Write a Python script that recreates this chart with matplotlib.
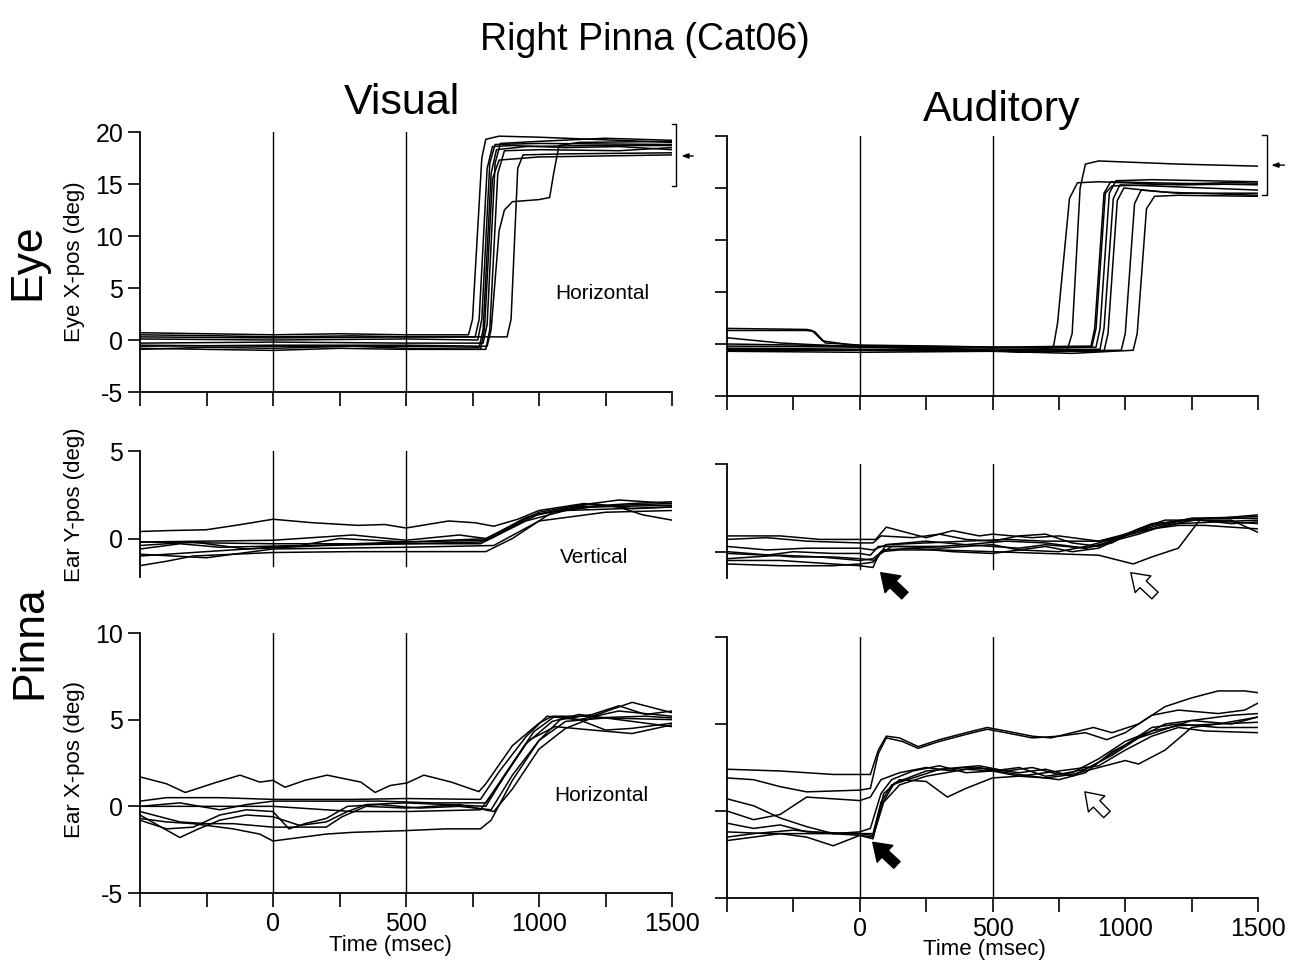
import matplotlib
matplotlib.use("Agg")
import matplotlib.pyplot as plt

plt.rcParams['font.family'] = ['Liberation Sans', 'DejaVu Sans']

# ---------------- data (time in msec, position in deg) ----------------
eye_visual = [
    [(-500,0.7),(-250,0.6),(0,0.5),(250,0.6),(500,0.5),(735,0.5),(750,2.0),(785,17.5),(800,19.3),(850,19.6),(1000,19.5),(1200,19.3),(1500,19.0)],
    [(-500,0.5),(-200,0.4),(0,0.3),(300,0.4),(500,0.3),(760,0.3),(775,2.0),(805,16.5),(825,18.6),(900,18.7),(1100,18.5),(1300,18.6),(1500,18.3)],
    [(-500,-0.5),(0,-0.6),(500,-0.6),(775,-0.7),(790,1.0),(820,16.0),(840,18.3),(950,18.6),(1200,18.7),(1500,18.7)],
    [(-500,-0.8),(-250,-0.9),(0,-1.0),(250,-0.8),(500,-0.9),(780,-0.9),(795,1.0),(825,15.5),(850,17.3),(1000,17.6),(1500,17.8)],
    [(-500,-0.3),(0,-0.2),(500,-0.3),(790,-0.3),(805,1.5),(835,17.0),(855,18.9),(1000,19.1),(1250,19.4),(1500,19.2)],
    [(-500,-0.9),(-250,-0.7),(0,-0.8),(300,-0.6),(500,-0.8),(800,-0.9),(815,1.0),(845,16.0),(870,18.2),(1000,18.3),(1300,18.2),(1500,18.5)],
    [(-500,0.3),(0,0.2),(500,0.3),(880,0.3),(895,2.0),(920,16.5),(940,17.8),(1100,17.9),(1500,18.0)],
    [(-500,-0.6),(0,-0.5),(500,-0.5),(805,-0.6),(820,1.0),(850,10.5),(870,12.5),(900,13.3),(1000,13.5),(1040,13.7),(1055,16.0),(1075,18.7),(1150,19.0),(1500,19.1)],
    [(-500,0.1),(0,0.0),(500,0.1),(770,0.0),(785,2.0),(815,17.0),(835,18.8),(1000,18.9),(1500,18.8)],
]

eye_auditory = [
    [(-500,1.3),(-200,1.3),(-170,1.2),(-130,0.1),(0,-0.1),(300,-0.2),(500,-0.3),(700,-0.4),(870,-0.3),(885,1.5),(920,14.5),(945,15.6),(1100,15.5),(1500,15.3)],
    [(-500,1.5),(-200,1.4),(-180,1.3),(-140,0.3),(0,-0.2),(300,-0.4),(500,-0.6),(700,-0.5),(730,-0.2),(745,2.0),(790,14.0),(820,15.5),(900,15.6),(1200,15.3),(1500,15.4)],
    [(-500,0.6),(-300,0.1),(0,-0.3),(500,-0.6),(600,-0.8),(780,-0.7),(800,1.0),(830,15.0),(850,17.3),(900,17.6),(1200,17.3),(1500,17.1)],
    [(-500,-0.2),(0,-0.3),(500,-0.4),(890,-0.3),(905,1.5),(940,14.5),(965,15.7),(1100,15.8),(1500,15.6)],
    [(-500,-0.4),(0,-0.5),(500,-0.6),(905,-0.5),(920,1.5),(955,14.0),(980,15.3),(1100,15.2),(1500,14.8)],
    [(-500,-0.6),(0,-0.6),(500,-0.7),(920,-0.7),(935,1.0),(970,13.8),(995,15.0),(1150,14.6),(1500,14.3)],
    [(-500,-0.7),(0,-0.8),(500,-0.7),(800,-0.9),(1030,-0.6),(1045,1.0),(1080,13.0),(1110,14.2),(1200,14.3),(1500,14.2)],
    [(-500,-0.5),(0,-0.6),(500,-0.7),(985,-0.6),(1000,1.0),(1035,13.5),(1060,14.8),(1200,14.5),(1500,14.5)],
    [(-500,0.0),(0,-0.2),(500,-0.3),(875,-0.2),(890,1.5),(925,14.5),(950,15.2),(1100,15.3),(1500,15.6)],
]

ear_y_visual = [
    [(-500,0.4),(-400,0.45),(-250,0.5),(-120,0.8),(0,1.1),(150,0.9),(320,0.75),(420,0.8),(500,0.6),(580,0.8),(660,1.0),(760,0.9),(830,0.7),(920,1.1),(1000,1.6),(1170,2.0),(1300,1.8),(1390,1.35),(1500,1.05)],
    [(-500,-1.55),(-400,-1.3),(-300,-1.0),(-150,-0.9),(0,-0.8),(300,-0.75),(600,-0.75),(800,-0.75),(900,0.0),(1050,1.5),(1200,1.8),(1500,1.9)],
    [(-500,-1.0),(-300,-0.8),(0,-0.5),(300,-0.3),(500,-0.2),(800,-0.1),(1000,1.4),(1150,1.8),(1350,2.0),(1500,2.1)],
    [(-500,-0.2),(0,-0.1),(300,0.2),(500,-0.1),(700,0.2),(800,0.0),(1000,1.5),(1150,1.9),(1300,2.2),(1500,2.0)],
    [(-500,-0.4),(-300,-0.2),(-100,-0.6),(200,-0.4),(500,-0.3),(780,-0.2),(950,1.2),(1100,1.7),(1300,1.9),(1500,2.0)],
    [(-500,-0.2),(0,-0.3),(500,-0.3),(780,-0.3),(950,1.0),(1100,1.6),(1300,1.7),(1500,1.8)],
    [(-500,-0.6),(-350,-0.3),(-200,-0.5),(100,-0.4),(250,0.0),(500,-0.2),(820,0.0),(970,1.3),(1200,2.0),(1350,1.7),(1500,1.8)],
    [(-500,-0.9),(-250,-1.1),(0,-0.6),(500,-0.5),(830,-0.4),(1000,1.0),(1250,1.5),(1500,1.6)],
]

ear_y_auditory = [
    [(-500,0.9),(-300,0.9),(-150,0.7),(0,0.7),(60,0.7),(100,1.4),(150,1.2),(250,0.8),(350,1.2),(450,0.9),(500,1.0),(650,0.8),(750,0.9),(900,0.6),(1000,0.9),(1100,1.5),(1250,1.9),(1350,1.9),(1500,2.1)],
    [(-500,0.7),(-350,0.8),(-200,0.6),(0,0.5),(50,0.5),(80,0.9),(200,0.8),(300,1.0),(400,0.7),(500,0.6),(600,0.9),(700,1.0),(800,0.5),(900,0.3),(1000,1.0),(1100,1.6),(1250,1.8),(1400,1.8),(1500,1.1)],
    [(-500,-0.1),(-350,-0.2),(-250,0.0),(-100,-0.1),(0,-0.1),(40,-0.2),(70,0.3),(150,0.3),(300,0.2),(500,0.4),(600,0.1),(700,0.3),(800,0.0),(900,0.2),(1000,0.9),(1100,1.3),(1200,1.6),(1500,1.8)],
    [(-500,-0.7),(-300,-0.8),(-100,-0.8),(0,-0.7),(50,-0.6),(80,0.0),(150,0.1),(300,0.1),(500,0.0),(700,-0.1),(900,-0.2),(1030,-0.7),(1100,-0.3),(1200,0.2),(1280,1.8),(1400,1.6),(1500,1.7)],
    [(-500,-0.5),(-300,-0.5),(-100,-0.7),(0,-0.8),(50,-0.9),(70,-0.2),(120,0.3),(300,0.3),(400,0.4),(500,0.3),(600,0.2),(700,0.4),(850,0.2),(950,0.6),(1050,1.0),(1150,1.5),(1300,1.9),(1500,1.9)],
    [(-500,0.3),(-350,0.1),(-200,0.2),(0,0.2),(50,0.1),(100,0.4),(250,0.6),(400,0.4),(550,0.6),(700,0.5),(850,0.2),(950,0.5),(1050,1.3),(1150,1.8),(1300,1.8),(1500,1.6)],
    [(-500,-0.4),(-300,-0.2),(-150,-0.3),(0,-0.5),(50,-0.4),(90,0.1),(200,0.2),(350,0.0),(500,-0.1),(600,0.1),(750,0.0),(850,0.3),(950,0.7),(1050,1.2),(1200,1.5),(1300,1.5),(1500,1.3)],
    [(-500,0.0),(-250,-0.3),(-100,-0.3),(0,-0.4),(60,-0.5),(100,0.4),(250,0.5),(400,0.6),(550,0.7),(700,0.6),(900,0.6),(1000,1.0),(1100,1.4),(1250,1.9),(1500,2.0)],
]

ear_x_visual = [
    [(-500,1.7),(-400,1.3),(-330,0.8),(-230,1.3),(-124,1.8),(-50,1.4),(0,1.5),(45,1.1),(120,1.5),(203,1.8),(330,1.4),(384,0.8),(440,1.2),(504,1.35),(567,1.8),(670,1.4),(774,0.85),(800,1.3),(900,3.5),(1000,4.8),(1050,5.2),(1150,5.0),(1250,4.4),(1350,4.5),(1500,4.8)],
    [(-500,-0.7),(-400,-0.9),(-300,-1.0),(-150,-1.3),(-50,-1.6),(0,-2.0),(100,-1.8),(200,-1.6),(300,-1.5),(500,-1.4),(650,-1.3),(780,-1.3),(820,-0.8),(900,1.5),(1000,3.8),(1080,5.0),(1200,5.3),(1300,5.8),(1400,5.3),(1500,5.5)],
    [(-500,0.3),(-400,0.5),(-200,0.5),(0,0.4),(300,0.4),(500,0.45),(780,0.4),(850,2.0),(950,4.0),(1030,5.2),(1150,5.0),(1300,5.5),(1500,5.2)],
    [(-500,-0.5),(-420,-1.2),(-350,-1.8),(-280,-1.3),(-200,-0.8),(-100,-0.5),(0,-0.6),(100,-1.1),(200,-0.9),(280,-0.3),(350,0.1),(500,0.2),(650,0.1),(800,0.0),(880,2.0),(980,4.3),(1060,5.2),(1200,5.2),(1350,6.0),(1500,5.4)],
    [(-500,-0.8),(-400,-1.3),(-300,-1.2),(-200,-0.5),(-100,-0.2),(0,-0.3),(60,-1.3),(120,-1.0),(200,-0.7),(280,0.0),(400,0.1),(550,-0.1),(700,0.0),(820,-0.2),(900,1.8),(1000,3.8),(1100,4.9),(1250,5.1),(1500,5.0)],
    [(-500,0.0),(-350,0.2),(-200,-0.2),(-100,0.1),(0,0.3),(200,0.3),(400,0.3),(600,0.2),(800,0.2),(870,1.8),(950,3.6),(1050,4.9),(1150,5.3),(1300,5.0),(1500,4.6)],
    [(-500,-0.3),(-350,-0.9),(-250,-1.0),(-150,-1.0),(0,-1.2),(100,-1.2),(200,-1.2),(260,-0.6),(350,0.0),(500,-0.1),(700,0.1),(830,-0.3),(900,1.0),(1000,3.3),(1100,4.5),(1200,5.1),(1400,5.2),(1500,5.1)],
    [(-500,0.0),(-200,0.0),(0,0.0),(300,-0.3),(500,-0.3),(780,-0.2),(860,1.5),(960,3.8),(1060,4.6),(1200,4.4),(1350,4.2),(1500,4.7)],
]

ear_x_auditory = [
    [(-500,2.4),(-300,2.3),(-100,2.1),(0,2.1),(40,2.1),(70,3.5),(100,4.3),(150,4.2),(220,3.7),(300,4.1),(400,4.5),(480,4.8),(550,4.6),(650,4.3),(720,4.2),(800,4.5),(880,4.8),(950,4.5),(1050,5.0),(1150,6.0),(1250,6.5),(1350,6.9),(1450,6.9),(1500,6.8)],
    [(-500,1.9),(-400,1.8),(-300,1.4),(-200,1.1),(0,1.2),(40,1.3),(70,3.3),(100,4.2),(160,4.0),(220,3.6),(300,4.0),(400,4.4),(480,4.7),(550,4.5),(650,4.2),(750,4.3),(850,4.5),(930,4.1),(1000,4.5),(1100,5.5),(1200,5.8),(1350,5.6),(1450,5.8),(1500,6.2)],
    [(-500,0.7),(-400,0.3),(-300,-0.4),(-200,-0.9),(-100,-1.3),(0,-1.2),(40,-1.0),(80,1.0),(120,1.8),(200,2.3),(300,2.6),(400,2.2),(500,2.3),(600,2.5),(700,2.0),(800,2.2),(900,3.0),(1000,4.0),(1100,4.6),(1200,4.9),(1350,5.0),(1500,5.1)],
    [(-500,0.0),(-400,-0.5),(-300,-0.2),(-200,0.8),(-100,0.7),(0,0.6),(40,0.8),(80,1.8),(150,2.2),(250,2.5),(350,2.3),(450,2.5),(550,2.2),(650,2.0),(750,1.8),(850,2.2),(950,3.4),(1050,4.2),(1150,5.0),(1250,5.2),(1400,5.0),(1500,5.4)],
    [(-500,-0.7),(-400,-1.0),(-300,-0.8),(-200,-1.2),(0,-1.3),(50,-1.3),(80,0.5),(120,1.5),(200,1.9),(300,2.4),(450,2.6),(550,2.3),(650,2.5),(750,2.1),(850,2.4),(950,3.2),(1050,4.2),(1150,4.7),(1250,5.2),(1400,5.5),(1500,5.6)],
    [(-500,-1.5),(-400,-1.3),(-250,-1.1),(-100,-1.3),(0,-1.4),(50,-1.5),(90,0.5),(150,1.5),(250,2.0),(400,2.4),(500,2.3),(600,2.0),(750,2.3),(900,2.6),(1000,3.5),(1100,4.3),(1200,4.8),(1300,4.6),(1500,4.5)],
    [(-500,-1.7),(-400,-1.5),(-300,-1.3),(-200,-1.5),(-100,-2.0),(-50,-1.7),(0,-1.4),(50,-1.6),(90,1.0),(150,1.8),(250,1.7),(330,0.8),(400,1.3),(500,1.9),(600,2.0),(700,1.9),(800,2.1),(900,2.5),(1000,2.9),(1050,2.7),(1150,3.5),(1250,4.8),(1350,5.0),(1500,5.4)],
    [(-500,-1.2),(-350,-1.3),(-200,-1.3),(0,-1.3),(50,-1.4),(80,0.3),(130,1.6),(250,2.3),(400,2.5),(500,2.4),(600,2.2),(700,2.4),(800,2.0),(900,2.8),(1000,3.8),(1100,4.8),(1200,5.0),(1350,4.8),(1500,4.8)],
]

x_ticks = [-500, -250, 0, 250, 500, 750, 1000, 1250, 1500]
x_tick_labels = ['', '', '0', '', '500', '', '1000', '', '1500']
event_times = [0, 500]
eye_yticks = [-5, 0, 5, 10, 15, 20]
ear_y_yticks = [0, 5]
ear_x_yticks = [-5, 0, 5, 10]

# ---------------- figure ----------------
W, H = 1289, 963
fig = plt.figure(figsize=(W / 100, H / 100), dpi=100)

def frac(x0, y_top, x1, y_bot):
    return [x0 / W, 1 - y_bot / H, (x1 - x0) / W, (y_bot - y_top) / H]

ax_ev = fig.add_axes(frac(140, 132, 672, 392))
ax_ea = fig.add_axes(frac(727, 136, 1258, 396))
ax_yv = fig.add_axes(frac(140, 451, 672, 577))
ax_ya = fig.add_axes(frac(727, 464, 1258, 578))
ax_xv = fig.add_axes(frac(140, 633, 672, 893))
ax_xa = fig.add_axes(frac(727, 637, 1258, 898))

def style(ax, ylim, yticks, show_ylabels, xaxis, xlabels, vline_top=1.0, vline_bot=0.0):
    ax.set_xlim(-500, 1500)
    ax.set_ylim(*ylim)
    for s in ['top', 'right']:
        ax.spines[s].set_visible(False)
    ax.spines['left'].set_linewidth(1.3)
    ax.spines['bottom'].set_linewidth(1.3)
    ax.set_yticks(yticks)
    if show_ylabels:
        ax.set_yticklabels([str(v) for v in yticks])
    else:
        ax.set_yticklabels([])
    ax.tick_params(axis='y', direction='out', length=9, width=1.2, labelsize=18, pad=3)
    if xaxis:
        ax.set_xticks(x_ticks)
        ax.set_xticklabels(x_tick_labels if xlabels else [''] * len(x_ticks))
        ax.tick_params(axis='x', direction='out', length=10, width=1.2, labelsize=18, pad=4)
    else:
        ax.spines['bottom'].set_visible(False)
        ax.set_xticks([])
    for t in event_times:
        ax.axvline(t, ymin=vline_bot, ymax=vline_top, color='black', lw=1.0)
    ax.patch.set_alpha(0)

def draw(ax, traces):
    for tr in traces:
        ts = [p[0] for p in tr]
        ys = [p[1] for p in tr]
        ax.plot(ts, ys, color='black', lw=1.1, solid_joinstyle='round')

style(ax_ev, (-5, 20), eye_yticks, True, True, False)
style(ax_ea, (-5, 20), eye_yticks, False, True, False)
style(ax_yv, (-2.2, 5), ear_y_yticks, True, False, False, vline_bot=0.09)
style(ax_ya, (-1.5, 5), ear_y_yticks, False, False, False, vline_bot=0.08)
style(ax_xv, (-5, 10), ear_x_yticks, True, True, True)
style(ax_xa, (-5, 10), ear_x_yticks, False, True, True)

draw(ax_ev, eye_visual)
draw(ax_ea, eye_auditory)
draw(ax_yv, ear_y_visual)
draw(ax_ya, ear_y_auditory)
draw(ax_xv, ear_x_visual)
draw(ax_xa, ear_x_auditory)

# brackets and small arrows on the eye panels
ax_ev.plot([1500, 1515, 1515, 1500], [20.8, 20.8, 14.8, 14.8], color='black', lw=1.0, clip_on=False)
ax_ev.annotate('', xy=(1525, 17.7), xytext=(1590, 17.7), annotation_clip=False,
               arrowprops=dict(arrowstyle='-|>,head_length=0.4,head_width=0.15', color='black', lw=1.0))
ax_ea.plot([1515, 1534, 1534, 1515], [20.1, 20.1, 14.3, 14.3], color='black', lw=1.0, clip_on=False)
ax_ea.annotate('', xy=(1540, 17.2), xytext=(1610, 17.2), annotation_clip=False,
               arrowprops=dict(arrowstyle='-|>,head_length=0.4,head_width=0.15', color='black', lw=1.0))

# fat arrows in the auditory pinna panels
def fat_arrow(ax, tip, tail, filled):
    ax.annotate('', xy=tip, xytext=tail, annotation_clip=False,
                arrowprops=dict(arrowstyle='simple,head_length=0.55,head_width=0.75,tail_width=0.3',
                                fc='black' if filled else 'white', ec='black', lw=1.0,
                                mutation_scale=22, shrinkA=0, shrinkB=0))

fat_arrow(ax_ya, (79, -1.2), (170, -2.5), True)
fat_arrow(ax_ya, (1021, -1.2), (1112, -2.5), False)
fat_arrow(ax_xa, (49, -1.8), (140, -3.1), True)
fat_arrow(ax_xa, (848, 1.1), (931, -0.2), False)

# in-panel labels
ax_ev.text(1237, 4.5, 'Horizontal', ha='center', va='center', fontsize=15)
ax_yv.text(1207, -1.1, 'Vertical', ha='center', va='center', fontsize=15)
ax_xv.text(1233, 0.6, 'Horizontal', ha='center', va='center', fontsize=15)

# titles and row labels
fig.text(0.500, 0.958, 'Right Pinna (Cat06)', ha='center', va='center', fontsize=27)
fig.text(0.312, 0.893, 'Visual', ha='center', va='center', fontsize=31)
fig.text(0.777, 0.886, 'Auditory', ha='center', va='center', fontsize=31)
fig.text(0.0217, 0.728, 'Eye', ha='center', va='center', rotation=90, fontsize=32)
fig.text(0.0233, 0.333, 'Pinna', ha='center', va='center', rotation=90, fontsize=32)
fig.text(0.058, 0.728, 'Eye X-pos (deg)', ha='center', va='center', rotation=90, fontsize=16)
fig.text(0.058, 0.476, 'Ear Y-pos (deg)', ha='center', va='center', rotation=90, fontsize=16)
fig.text(0.058, 0.211, 'Ear X-pos (deg)', ha='center', va='center', rotation=90, fontsize=16)
fig.text(0.303, 0.018, 'Time (msec)', ha='center', va='center', fontsize=16)
fig.text(0.764, 0.0135, 'Time (msec)', ha='center', va='center', fontsize=16)

fig.savefig('out.png', dpi=100, facecolor='white')
